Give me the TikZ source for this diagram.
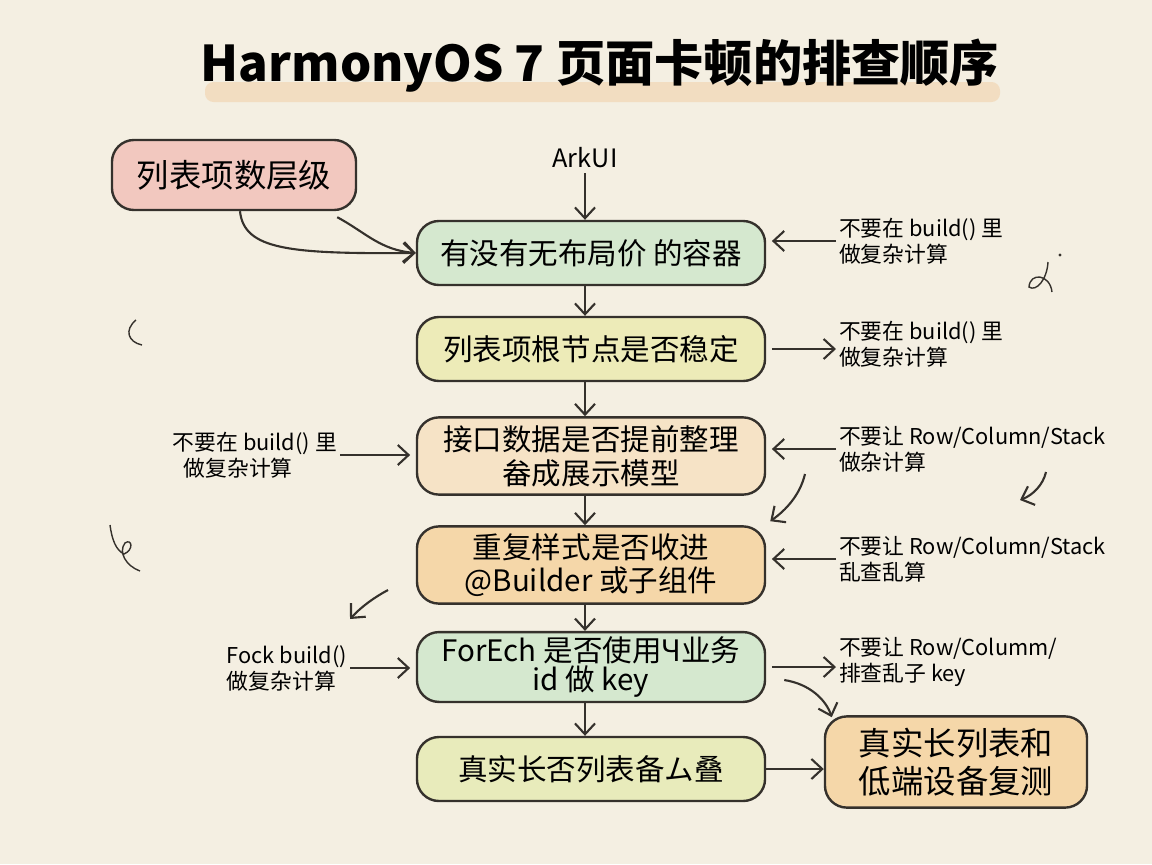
\documentclass[tikz,border=0pt]{standalone}
\usepackage{fontspec}
\setmainfont{Noto Sans CJK SC}
\usetikzlibrary{arrows.meta,calc}

\definecolor{fondo}{HTML}{F4EFE2}
\definecolor{tinta}{HTML}{35312C}
\definecolor{banda}{HTML}{F2D6B3}
\definecolor{verde}{HTML}{D5E8CF}
\definecolor{amarillo}{HTML}{EDEBB8}
\definecolor{crema}{HTML}{F6E3C6}
\definecolor{naranja}{HTML}{F5D7A9}
\definecolor{lima}{HTML}{E8EBBB}
\definecolor{rosa}{HTML}{F2C8BF}

\tikzset{
  caja/.style={draw=tinta, line width=1.7pt, rounded corners=0.55cm,
    minimum width=8.7cm, minimum height=1.6cm, align=center,
    font=\fontsize{21}{24}\selectfont},
  nota/.style={align=left, inner sep=2pt, font=\fontsize{15.5}{18.5}\selectfont},
  flecha/.style={->, draw=tinta, line width=1.5pt},
  garabato/.style={draw=tinta, line width=1pt},
  >={Straight Barb[length=2.7mm,width=5mm]}
}

\begin{document}
\begin{tikzpicture}[x=0.025cm, y=-0.025cm]
  % Fondo
  \fill[fondo] (0,0) rectangle (1152,864);
  \useasboundingbox (0,0) rectangle (1152,864);

  % Título
  \fill[banda, opacity=0.7, rounded corners=6pt] (205,82) rectangle (1000,102);
  \node[font=\fontsize{35}{40}\selectfont\bfseries] (titulo) at (600,66)
    {HarmonyOS 7 页面卡顿的排查顺序};

  % Cajas
  \node[caja, fill=verde] (A) at (591,253) {有没有无布局价 的容器};
  \node[caja, fill=amarillo] (B) at (591,349) {列表项根节点是否稳定};
  \node[caja, fill=crema, minimum height=1.93cm] (C) at (591,456)
    {接口数据是否提前整理\\畚成展示模型};
  \node[caja, fill=naranja, minimum height=1.93cm] (D) at (591,565)
    {重复样式是否收进\\@Builder 或子组件};
  \node[caja, fill=verde, minimum height=1.63cm, font=\fontsize{21}{17}\selectfont] (E) at (591,667)
    {ForEch 是否使用Ч业务\\id 做 key};
  \node[caja, fill=lima] (F) at (591,769) {真实长否列表备ム叠};
  \node[caja, fill=naranja, minimum width=6.55cm, minimum height=2.28cm,
    font=\fontsize{23}{27}\selectfont] (G) at (956,762) {真实长列表和\\低端设备复测};
  \node[caja, fill=rosa, minimum width=6.1cm, minimum height=1.75cm,
    font=\fontsize{23}{27}\selectfont] (H) at (234,175) {列表项数层级};
  \node[font=\fontsize{18}{20}\selectfont] (ark) at (585,158) {ArkUI};

  % Notas
  \node[nota, anchor=west] (r1) at (836,241) {不要在 build() 里\\做复杂计算};
  \node[nota, anchor=west] (r2) at (836,344) {不要在 build() 里\\做复杂计算};
  \node[nota, anchor=west] (r3) at (836,449) {不要让 Row/Column/Stack\\做杂计算};
  \node[nota, anchor=west] (r4) at (836,559) {不要让 Row/Column/Stack\\乱查乱算};
  \node[nota, anchor=west] (r5) at (836,662) {不要让 Row/Columm/\\排查乱子 key};
  \node[nota, anchor=east] (l1) at (340,455) {不要在 build() 里\\\hspace{0.5em}做复杂计算};
  \node[nota, anchor=east] (l2) at (350,668) {Fock build()\\做复杂计算};

  % Flechas principales
  \draw[flecha] (ark.south) -- (ark.south |- A.north);
  \draw[flecha] (A.south -| ark.south) -- (B.north -| ark.south);
  \draw[flecha] (B.south -| ark.south) -- (C.north -| ark.south);
  \draw[flecha] (C.south -| ark.south) -- (D.north -| ark.south);
  \draw[flecha] (D.south -| ark.south) -- (E.north -| ark.south);
  \draw[flecha] (E.south -| ark.south) -- (F.north -| ark.south);
  \draw[flecha] (F.east) -- (F.east -| G.west);

  % Desde la caja rosa
  \draw[flecha] ($(H.south)+(6,0)$) .. controls (244,250) and (290,254) .. (A.west);
  \draw[flecha] ($(H.south east)+(-20,6)$) .. controls (365,232) and (380,250) .. (A.west);

  % Flechas de las notas
  \draw[flecha, shorten >=4pt] (r1.west) -- (r1.west -| A.east);
  \draw[flecha, shorten <=4pt] (B.east) -- (B.east -| r2.west);
  \draw[flecha, shorten >=4pt] (r3.west) -- (r3.west -| C.east);
  \draw[flecha, shorten >=4pt] (r4.west) -- (r4.west -| D.east);
  \draw[flecha, shorten <=4pt] (E.east) -- (E.east -| r5.west);
  \draw[flecha, shorten >=4pt] (l1.east) -- (l1.east -| C.west);
  \draw[flecha, shorten >=4pt] (l2.east) -- (l2.east -| E.west);

  % Curvas
  \coordinate (d1) at (805,474);
  \draw[flecha] (d1) .. controls (800,495) and (786,510) .. ($(D.north east)+(4,-4)$);
  \draw[flecha] ($(E.east)+(18,13)$) .. controls (810,684) and (826,700) .. ($(G.north west)+(8,2)$);
  \coordinate (d2) at (1046,472);
  \coordinate (d2f) at (1020,500);
  \draw[flecha] (d2) .. controls (1043,485) and (1033,495) .. (d2f);
  \coordinate (d3) at (388,590);
  \coordinate (d3f) at (350,619);
  \draw[flecha] (d3) .. controls (375,597) and (362,606) .. (d3f);

  % Garabatos
  \draw[garabato] (136,320) .. controls (124,330) and (128,342) .. (142,345);
  \draw[garabato] (110,525) .. controls (112,540) and (116,550) .. (124,554)
    .. controls (134,550) and (132,538) .. (125,543)
    .. controls (118,552) and (126,566) .. (140,571);
  \draw[garabato] (1048,262) .. controls (1047,280) and (1036,292) .. (1029,287)
    .. controls (1030,272) and (1050,274) .. (1052,292);
  \fill[tinta] (1060,255) circle (1.6);
\end{tikzpicture}
\end{document}
